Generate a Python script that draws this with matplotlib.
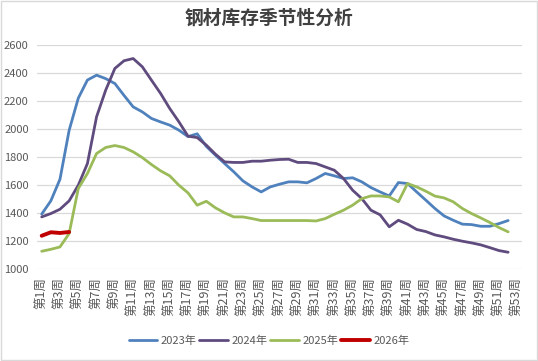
import matplotlib
matplotlib.use('Agg')
import matplotlib.pyplot as plt
from matplotlib.patches import Rectangle

plt.rcParams['font.family'] = ['Noto Sans CJK SC', 'DejaVu Sans']

weeks = list(range(1, 54))
week_labels = [f"第{w}周" for w in weeks]

y2023 = [1390, 1485, 1640, 1990, 2220, 2350, 2385, 2360, 2325, 2240,
         2158, 2122, 2075, 2050, 2027, 1991, 1945, 1965, 1875, 1812,
         1752, 1693, 1628, 1585, 1549, 1585, 1604, 1621, 1621, 1614,
         1645, 1681, 1664, 1645, 1650, 1621, 1580, 1549, 1520, 1616,
         1609, 1549, 1490, 1430, 1377, 1346, 1318, 1315, 1303, 1303,
         1322, 1344]
y2024 = [1370, 1394, 1425, 1485, 1597, 1752, 2087, 2278, 2433, 2488,
         2504, 2445, 2349, 2254, 2146, 2051, 1948, 1938, 1884, 1819,
         1764, 1760, 1760, 1769, 1769, 1776, 1781, 1783, 1760, 1760,
         1752, 1728, 1704, 1645, 1561, 1501, 1418, 1385, 1299, 1346,
         1318, 1280, 1265, 1241, 1227, 1210, 1196, 1184, 1170, 1150,
         1129, 1117]
y2025 = [1124, 1138, 1155, 1251, 1573, 1681, 1824, 1867, 1881, 1867,
         1836, 1795, 1745, 1700, 1664, 1597, 1542, 1454, 1482, 1435,
         1399, 1370, 1370, 1358, 1344, 1344, 1344, 1344, 1344, 1344,
         1341, 1358, 1389, 1418, 1454, 1501, 1520, 1520, 1513, 1478,
         1609, 1585, 1554, 1519, 1506, 1478, 1430, 1394, 1363, 1330,
         1294, 1263]
y2026 = [1235, 1260, 1255, 1262]

series = [
    ('2023年', y2023, '#4F81BD', 2.0),
    ('2024年', y2024, '#5F4B7E', 2.0),
    ('2025年', y2025, '#9BBB59', 2.0),
    ('2026年', y2026, '#C00000', 2.8),
]

fig = plt.figure(figsize=(5.38, 3.61), dpi=100)
ax = fig.add_axes([0.069, 0.256, 0.901, 0.619])

for name, vals, color, lw in series:
    ax.plot(weeks[:len(vals)], vals, color=color, linewidth=lw, label=name,
            solid_capstyle='round', solid_joinstyle='round')

ax.set_xlim(0.5, 53.5)
ax.set_ylim(1000, 2600)
ax.set_yticks(range(1000, 2601, 200))
ax.set_xticks(weeks[::2])
ax.set_xticklabels(week_labels[::2], rotation=90, fontsize=9, color='#595959')
ax.tick_params(axis='y', labelsize=8, colors='#595959', length=0, pad=6)
ax.tick_params(axis='x', length=0, pad=6)
ax.grid(axis='y', color='#d9d9d9', linewidth=0.9)
ax.set_axisbelow(True)
for s in ax.spines.values():
    s.set_visible(False)

fig.suptitle('钢材库存季节性分析', x=0.5, y=0.975, fontsize=13.5,
             fontweight='bold', color='#404040')

fig.legend(loc='center', bbox_to_anchor=(0.5, 0.056), ncol=4, frameon=False,
           fontsize=8, handlelength=2.6, handletextpad=0.3, columnspacing=0.25,
           labelcolor='#595959')

fig.patches.append(Rectangle((0.002, 0.003), 0.996, 0.994, transform=fig.transFigure,
                             fill=False, edgecolor='#d9d9d9', linewidth=1))

fig.savefig('out.png', dpi=100)
